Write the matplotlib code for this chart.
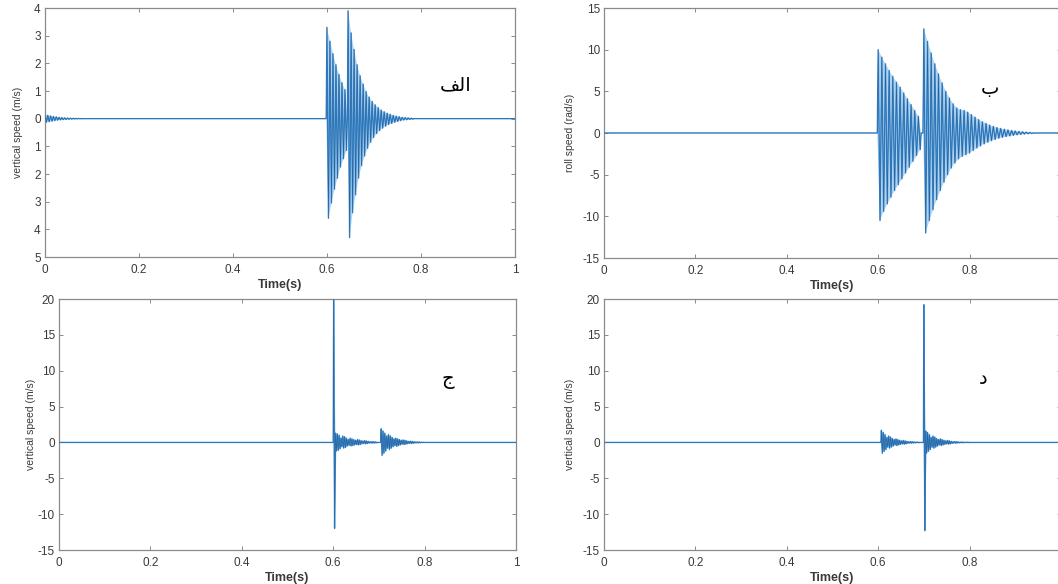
import matplotlib
matplotlib.use("Agg")
import matplotlib.pyplot as plt
import numpy as np

# ── Data (peak values of each half cycle) ─────────────────────────────────────
# (a) vertical speed, first model
A_START_T0, A_START_PERIOD = 0.0, 0.006
A_START_HI = [0.15, 0.12, 0.10, 0.08, 0.065, 0.05, 0.04, 0.03, 0.025, 0.02, 0.015, 0.01, 0.008, 0.005]
A_START_LO = [-0.13, -0.11, -0.09, -0.07, -0.055, -0.045, -0.035, -0.028, -0.022, -0.017, -0.012, -0.009, -0.006, -0.004]
A_B1_T0, A_B1_PERIOD = 0.600, 0.0064
A_B1_HI = [3.3, 2.8, 2.35, 1.95, 1.6, 1.3, 1.05]
A_B1_LO = [-3.6, -3.05, -2.55, -2.15, -1.75, -1.45, -1.15]
A_B2_T0, A_B2_PERIOD = 0.645, 0.0064
A_B2_HI = [3.9, 3.1, 2.5, 1.95, 1.55, 1.25, 0.98, 0.78, 0.62, 0.5, 0.4, 0.31, 0.25, 0.2, 0.16,
           0.12, 0.09, 0.07, 0.05, 0.04, 0.03, 0.02]
A_B2_LO = [-4.3, -3.4, -2.75, -2.15, -1.7, -1.35, -1.07, -0.85, -0.68, -0.54, -0.43, -0.34, -0.27,
           -0.21, -0.17, -0.13, -0.1, -0.07, -0.05, -0.04, -0.03, -0.02]

# (b) roll speed
B_B1_T0, B_B1_PERIOD = 0.600, 0.008
B_B1_HI = [10.0, 9.1, 8.3, 7.5, 6.8, 6.1, 5.5, 4.8, 4.1, 3.4, 2.7, 2.0]
B_B1_LO = [-10.5, -9.4, -8.5, -7.7, -6.9, -6.2, -5.5, -4.8, -4.1, -3.4, -2.7, -2.0]
B_B2_T0, B_B2_PERIOD = 0.700, 0.008
B_B2_HI = [12.5, 11.0, 9.6, 8.3, 7.1, 6.0, 5.0, 4.2, 3.5, 3.0, 2.8, 2.7, 2.5, 2.2, 1.9, 1.6,
           1.35, 1.15, 0.95, 0.8, 0.65, 0.55, 0.45, 0.37, 0.3, 0.24, 0.19, 0.15, 0.11, 0.08]
B_B2_LO = [-12.0, -10.5, -9.2, -8.0, -6.9, -5.9, -5.0, -4.2, -3.6, -3.1, -2.8, -2.6, -2.4, -2.1,
           -1.8, -1.55, -1.3, -1.1, -0.92, -0.77, -0.63, -0.52, -0.43, -0.35, -0.28, -0.22,
           -0.17, -0.13, -0.1, -0.07]

# (c) vertical speed, spike at 0.6 s
C_B1_T0, C_B1_PERIOD = 0.601, 0.004
C_B1_HI = [21.0, 1.3, 1.2, 1.0, 0.6, 0.9, 0.8, 0.6, 0.4, 0.6, 0.5, 0.4, 0.3, 0.4, 0.35, 0.25,
           0.2, 0.25, 0.2, 0.15, 0.1, 0.12, 0.1, 0.08]
C_B1_LO = [-12.0, -1.2, -1.1, -0.9, -0.6, -0.8, -0.7, -0.5, -0.4, -0.5, -0.45, -0.35, -0.3,
           -0.35, -0.3, -0.2, -0.15, -0.2, -0.15, -0.1, -0.08, -0.1, -0.08, -0.06]
C_B2_T0, C_B2_PERIOD = 0.705, 0.004
C_B2_HI = [1.9, 1.6, 1.3, 0.9, 1.1, 0.9, 0.7, 0.5, 0.6, 0.5, 0.4, 0.3, 0.35, 0.3, 0.22, 0.15,
           0.18, 0.14, 0.1, 0.07, 0.08, 0.06, 0.04, 0.03]
C_B2_LO = [-1.8, -1.5, -1.2, -0.8, -1.0, -0.8, -0.6, -0.45, -0.55, -0.45, -0.35, -0.25, -0.3,
           -0.25, -0.18, -0.12, -0.15, -0.12, -0.08, -0.06, -0.07, -0.05, -0.03, -0.02]

# (d) vertical speed, spike at 0.7 s
D_B1_T0, D_B1_PERIOD = 0.607, 0.004
D_B1_HI = [1.7, 1.4, 1.1, 0.7, 0.9, 0.75, 0.55, 0.4, 0.5, 0.4, 0.3, 0.22, 0.28, 0.22, 0.15,
           0.1, 0.13, 0.1, 0.07, 0.05, 0.06]
D_B1_LO = [-1.5, -1.25, -1.0, -0.65, -0.8, -0.65, -0.5, -0.35, -0.45, -0.35, -0.27, -0.2,
           -0.25, -0.2, -0.13, -0.09, -0.11, -0.08, -0.06, -0.04, -0.05]
D_B2_T0, D_B2_PERIOD = 0.700, 0.004
D_B2_HI = [19.2, 1.6, 1.4, 1.1, 0.7, 0.9, 0.75, 0.55, 0.4, 0.5, 0.4, 0.3, 0.22, 0.28, 0.22,
           0.15, 0.1, 0.13, 0.1, 0.07, 0.05, 0.06, 0.04, 0.03, 0.04, 0.02]
D_B2_LO = [-12.3, -1.5, -1.25, -1.0, -0.65, -0.8, -0.65, -0.5, -0.35, -0.45, -0.35, -0.27,
           -0.2, -0.25, -0.2, -0.13, -0.09, -0.11, -0.08, -0.06, -0.04, -0.05, -0.03, -0.02,
           -0.03, -0.01]

# Tick labels (panel (a) shows them without minus signs)
A_YTICKS = [4, 3, 2, 1, 0, -1, -2, -3, -4, -5]
A_YTICKLABELS = ["4", "3", "2", "1", "0", "1", "2", "3", "4", "5"]
B_YTICKS = [15, 10, 5, 0, -5, -10, -15]
CD_YTICKS = [20, 15, 10, 5, 0, -5, -10, -15]
X_TICKS = [0, 0.2, 0.4, 0.6, 0.8, 1]
X_TICKLABELS = ["0", "0.2", "0.4", "0.6", "0.8", "1"]
# right-hand panels run past the picture edge, so their "1" is not shown
X_TICKLABELS_RIGHT = ["0", "0.2", "0.4", "0.6", "0.8", ""]

# panel letters: الف (shaped, visual order), ب, ج, د
LETTERS = ["\uFED2\uFEDF\u0627", "ب", "ج", "د"]

LINE_COLOR = "#3f92d4"
FILL_COLOR = "#6fb1e3"
DARK_COLOR = "#1c3d78"
FRAME_COLOR = "#8a8a8a"
TEXT_COLOR = "#3a3a3a"


def burst(t0, period, hi, lo):
    vals = np.empty(len(hi) + len(lo))
    vals[0::2] = hi
    vals[1::2] = lo
    t = t0 + np.arange(len(vals)) * period / 2
    t = np.concatenate([[t0 - period / 4], t, [t[-1] + period / 4]])
    vals = np.concatenate([[0.0], vals, [0.0]])
    return t, vals


def envelope(t, v):
    # polygon through the upper peaks and back along the lower peaks
    inner_t, inner_v = t[1:-1], v[1:-1]
    up_t, up_v = inner_t[0::2], inner_v[0::2]
    dn_t, dn_v = inner_t[1::2], inner_v[1::2]
    px = np.concatenate([[t[0]], up_t, [t[-1]], dn_t[::-1]])
    py = np.concatenate([[0.0], up_v, [0.0], dn_v[::-1]])
    return px, py


def series(bursts):
    ts, vs, polys = [np.array([0.0])], [np.array([0.0])], []
    for b in bursts:
        t, v = burst(*b)
        ts.append(t)
        vs.append(v)
        polys.append(envelope(t, v))
    ts.append(np.array([1.0]))
    vs.append(np.array([0.0]))
    return np.concatenate(ts), np.concatenate(vs), polys


def style_axes(ax, ylim, yticks, yticklabels, ylabel, xticklabels, label_x):
    ax.set_xlim(0, 1)
    ax.set_ylim(*ylim)
    ax.set_xticks(X_TICKS)
    ax.set_xticklabels(xticklabels)
    ax.set_yticks(yticks)
    ax.set_yticklabels(yticklabels)
    for s in ax.spines.values():
        s.set_color(FRAME_COLOR)
        s.set_linewidth(0.9)
    ax.tick_params(direction="in", top=True, right=True, length=3, width=0.7,
                   color=FRAME_COLOR, labelsize=8.5, labelcolor=TEXT_COLOR)
    ax.tick_params(axis="x", pad=5)
    ax.tick_params(axis="y", pad=3)
    ax.set_xlabel("Time(s)", fontsize=9, fontweight="bold", color=TEXT_COLOR, labelpad=2)
    ax.set_ylabel(ylabel, fontsize=7.5, color=TEXT_COLOR)
    ax.yaxis.set_label_coords(label_x, 0.5)


plt.rcParams["font.family"] = ["Liberation Sans", "DejaVu Sans"]

fig = plt.figure(figsize=(10.58, 5.84), dpi=100)
fig.patch.set_facecolor("white")

ax_a = fig.add_axes([0.0425, 0.5599, 0.4442, 0.4264])
ax_b = fig.add_axes([0.5709, 0.5582, 0.4319, 0.4281])
ax_c = fig.add_axes([0.0558, 0.0582, 0.4319, 0.4298])
ax_d = fig.add_axes([0.5709, 0.0582, 0.4319, 0.4298])

panels = [
    (ax_a, series([(A_START_T0, A_START_PERIOD, A_START_HI, A_START_LO),
                   (A_B1_T0, A_B1_PERIOD, A_B1_HI, A_B1_LO),
                   (A_B2_T0, A_B2_PERIOD, A_B2_HI, A_B2_LO)])),
    (ax_b, series([(B_B1_T0, B_B1_PERIOD, B_B1_HI, B_B1_LO),
                   (B_B2_T0, B_B2_PERIOD, B_B2_HI, B_B2_LO)])),
    (ax_c, series([(C_B1_T0, C_B1_PERIOD, C_B1_HI, C_B1_LO),
                   (C_B2_T0, C_B2_PERIOD, C_B2_HI, C_B2_LO)])),
    (ax_d, series([(D_B1_T0, D_B1_PERIOD, D_B1_HI, D_B1_LO),
                   (D_B2_T0, D_B2_PERIOD, D_B2_HI, D_B2_LO)])),
]

for ax, (t, v, polys) in panels:
    for px, py in polys:
        ax.fill(px, py, color=FILL_COLOR, alpha=0.55, linewidth=0, zorder=1)
    ax.plot(t, v, color=LINE_COLOR, linewidth=1.0, zorder=2)
    ax.plot(t, v, color=DARK_COLOR, linewidth=0.4, alpha=0.6, zorder=3)

style_axes(ax_a, (-5, 4), A_YTICKS, A_YTICKLABELS, "vertical speed (m/s)", X_TICKLABELS, -0.046)
style_axes(ax_b, (-15, 15), B_YTICKS, [str(v) for v in B_YTICKS], "roll speed (rad/s)",
           X_TICKLABELS_RIGHT, -0.064)
style_axes(ax_c, (-15, 20), CD_YTICKS, [str(v) for v in CD_YTICKS], "vertical speed (m/s)",
           X_TICKLABELS, -0.05)
style_axes(ax_d, (-15, 20), CD_YTICKS, [str(v) for v in CD_YTICKS], "vertical speed (m/s)",
           X_TICKLABELS_RIGHT, -0.064)

letter_pos = [(ax_a, 0.874, 0.69), (ax_b, 0.845, 0.68), (ax_c, 0.85, 0.68), (ax_d, 0.83, 0.685)]
for (ax, x, y), txt in zip(letter_pos, LETTERS):
    ax.text(x, y, txt, transform=ax.transAxes, fontsize=14, family=["DejaVu Sans"],
            ha="center", va="center", color="black")

fig.savefig("out.png", dpi=100, facecolor="white")
